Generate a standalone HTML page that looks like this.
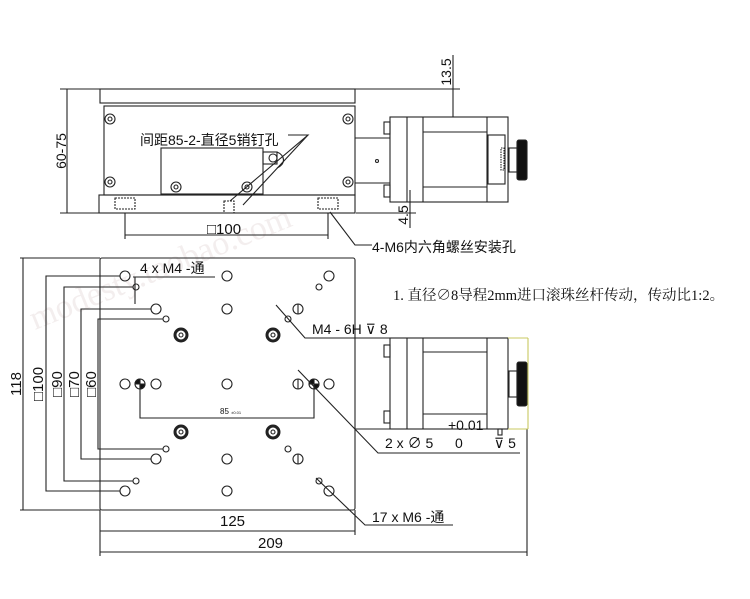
<!DOCTYPE html>
<html><head><meta charset="utf-8"><style>
html,body{margin:0;padding:0;background:#fff;width:750px;height:599px;overflow:hidden}
svg{display:block}
text{font-family:"Liberation Sans","Noto Sans CJK SC",sans-serif;fill:#111}
</style></head><body>
<svg width="750" height="599" viewBox="0 0 750 599" xmlns="http://www.w3.org/2000/svg">
<text transform="translate(35,330) rotate(-22)" font-size="34" style="fill:#f3eeee;font-family:'Liberation Serif',serif">modesty.taobao.com</text>
<g fill="none" stroke="#222" stroke-width="1.1">
<!-- TOP VIEW -->
<rect x="100" y="89" width="255" height="14"/>
<rect x="104" y="106" width="251" height="89"/>
<rect x="99" y="195" width="256" height="18"/>
<rect x="161" y="148" width="102" height="46"/>
<rect x="263" y="152" width="14" height="12"/>
<path d="M277 152 A12 9 0 0 1 277 168"/>
<circle cx="273" cy="158" r="4"/>
<g>
<circle cx="110" cy="119" r="5"/><circle cx="110" cy="119" r="2"/>
<circle cx="348" cy="119" r="5"/><circle cx="348" cy="119" r="2"/>
<circle cx="110" cy="182" r="5"/><circle cx="110" cy="182" r="2"/>
<circle cx="348" cy="182" r="5"/><circle cx="348" cy="182" r="2"/>
<circle cx="176" cy="187" r="5"/><circle cx="176" cy="187" r="2"/>
<circle cx="247" cy="187" r="5"/><circle cx="247" cy="187" r="2"/>
</g>
<rect x="115" y="198" width="20" height="11" stroke-dasharray="2 1"/>
<rect x="318" y="198" width="20" height="11" stroke-dasharray="2 1"/>
<rect x="224" y="201" width="10" height="12" stroke-dasharray="2 1"/>
<!-- motor top -->
<line x1="355" y1="138" x2="390" y2="138"/><line x1="355" y1="183" x2="390" y2="183"/>
<circle cx="377" cy="161" r="1.5"/>
<rect x="384" y="122" width="6" height="12"/><rect x="384" y="185" width="6" height="12"/>
<rect x="390" y="117" width="118" height="85"/>
<line x1="407" y1="117" x2="407" y2="202"/><line x1="423" y1="117" x2="423" y2="202"/><line x1="487" y1="117" x2="487" y2="202"/>
<line x1="423" y1="132" x2="487" y2="132"/><line x1="423" y1="187" x2="487" y2="187"/>
<rect x="488" y="135" width="17" height="49"/>
<rect x="501" y="148" width="3" height="22" stroke-dasharray="1.5 1"/>
<rect x="509" y="148" width="8" height="24"/>
<rect x="517" y="140" width="10" height="40" fill="#111" rx="2"/>
<!-- dims top -->
<line x1="60" y1="89" x2="100" y2="89"/><line x1="60" y1="213" x2="99" y2="213"/>
<line x1="67" y1="89" x2="67" y2="213"/>
<line x1="355" y1="89" x2="460" y2="89"/><line x1="453" y1="55" x2="453" y2="117"/>
<line x1="356" y1="213" x2="416" y2="213"/><line x1="410" y1="190" x2="410" y2="228"/>
<line x1="125" y1="213" x2="125" y2="239"/><line x1="328" y1="213" x2="328" y2="239"/>
<line x1="125" y1="235" x2="328" y2="235"/>
<!-- leaders top -->
<polyline points="288,135 308,135 230,201"/><line x1="308" y1="135" x2="243" y2="205"/>
<polyline points="330,212 355,245 372,245"/>
<!-- BOTTOM VIEW -->
<rect x="100" y="258" width="255" height="252" rx="2"/>
<g>
<circle cx="125" cy="276" r="5"/><circle cx="227" cy="276" r="5"/><circle cx="329" cy="276" r="5"/>
<circle cx="156" cy="309" r="5"/><circle cx="227" cy="309" r="5"/><circle cx="298" cy="309" r="5"/>
<circle cx="125" cy="384" r="5"/><circle cx="156" cy="384" r="5"/><circle cx="227" cy="384" r="5"/><circle cx="298" cy="384" r="5"/><circle cx="329" cy="384" r="5"/>
<circle cx="156" cy="459" r="5"/><circle cx="227" cy="459" r="5"/><circle cx="298" cy="459" r="5"/>
<circle cx="125" cy="491" r="5"/><circle cx="227" cy="491" r="5"/><circle cx="329" cy="491" r="5"/>
<line x1="298" y1="304" x2="298" y2="314"/><line x1="298" y1="379" x2="298" y2="389"/><line x1="298" y1="454" x2="298" y2="464"/>
<circle cx="136" cy="287" r="3"/><circle cx="166" cy="319" r="3"/><circle cx="166" cy="449" r="3"/><circle cx="136" cy="481" r="3"/>
<circle cx="319" cy="287" r="3"/><circle cx="288" cy="319" r="3"/><circle cx="288" cy="449" r="3"/><circle cx="319" cy="481" r="3"/>
</g>
<g stroke-width="3"><circle cx="181" cy="335" r="6"/><circle cx="273" cy="335" r="6"/><circle cx="181" cy="432" r="6"/><circle cx="273" cy="432" r="6"/></g>
<g><circle cx="181" cy="335" r="2"/><circle cx="273" cy="335" r="2"/><circle cx="181" cy="432" r="2"/><circle cx="273" cy="432" r="2"/></g>
<circle cx="140" cy="384" r="5"/><path d="M140 384 L140 379 A5 5 0 0 0 135 384 Z M140 384 L140 389 A5 5 0 0 0 145 384Z" fill="#111"/>
<circle cx="314" cy="384" r="5"/><path d="M314 384 L314 379 A5 5 0 0 0 309 384 Z M314 384 L314 389 A5 5 0 0 0 319 384Z" fill="#111"/>
<!-- left dims -->
<line x1="20" y1="258" x2="100" y2="258"/><line x1="20" y1="510" x2="100" y2="510"/><line x1="23" y1="258" x2="23" y2="510"/>
<polyline points="120,276 46,276 46,491 120,491"/>
<polyline points="133,287 64,287 64,481 133,481"/>
<polyline points="151,309 81,309 81,459 151,459"/>
<polyline points="163,319 98,319 98,449 163,449"/>
<!-- 85 -->
<polyline points="140,384 140,418 314,418 314,384"/>
<!-- bottom dims -->
<line x1="100" y1="510" x2="100" y2="556"/><line x1="355" y1="510" x2="355" y2="535"/>
<line x1="100" y1="531" x2="355" y2="531"/><line x1="100" y1="552" x2="527" y2="552"/>
<line x1="527" y1="429" x2="527" y2="556"/>
<!-- motor bottom -->
<rect x="384" y="345" width="6" height="12"/><rect x="384" y="411" width="6" height="12"/>
<rect x="390" y="338" width="118" height="91"/>
<line x1="407" y1="338" x2="407" y2="429"/><line x1="423" y1="338" x2="423" y2="429"/><line x1="487" y1="338" x2="487" y2="429"/>
<line x1="423" y1="352" x2="487" y2="352"/><line x1="423" y1="414" x2="487" y2="414"/>
<line x1="355" y1="338" x2="390" y2="338"/><line x1="355" y1="429" x2="390" y2="429"/>
<rect x="509" y="371" width="8" height="26"/>
<rect x="517" y="362" width="10" height="44" fill="#111" rx="2"/>
<line x1="528" y1="338" x2="528" y2="429" stroke="#c8c860"/>
<line x1="508" y1="338" x2="528" y2="338" stroke="#c8c860"/><line x1="508" y1="429" x2="528" y2="429" stroke="#c8c860"/>
<rect x="498" y="429" width="4" height="6"/>
<!-- leaders bottom -->
<polyline points="133,277 215,277"/><line x1="135" y1="277" x2="135" y2="304"/>
<polyline points="276,305 305,338 398,338"/>
<polyline points="298,370 378,453 520,453"/>
<polyline points="316,478 365,525 453,525"/>
</g>
<!-- text -->
<text x="140" y="145" font-size="14">间距85-2-直径5销钉孔</text>
<text transform="translate(66,151) rotate(-90)" font-size="14" text-anchor="middle">60-75</text>
<text transform="translate(451,72) rotate(-90)" font-size="14" text-anchor="middle">13.5</text>
<text transform="translate(408,215) rotate(-90)" font-size="14" text-anchor="middle">4.5</text>
<text x="207" y="234" font-size="15">□100</text>
<text x="372" y="252" font-size="14">4-M6内六角螺丝安装孔</text>
<text x="393" y="300" font-size="14.5" style="font-family:'Liberation Serif','Noto Serif CJK SC',serif">1. 直径∅8导程2mm进口滚珠丝杆传动，传动比1:2。</text>
<text x="140" y="273" font-size="14">4 x  M4 -通</text>
<text x="312" y="334" font-size="14">M4 - 6H ⊽ 8</text>
<text x="385" y="448" font-size="14">2 x ∅ 5</text>
<text x="455" y="448" font-size="14">0</text>
<text x="494" y="448" font-size="14">⊽ 5</text>
<text x="448" y="430" font-size="14">+0.01</text>
<text x="372" y="522" font-size="14">17 x  M6 -通</text>
<text x="220" y="414" font-size="8">85 <tspan font-size="4">±0.01</tspan></text>
<text x="220" y="526" font-size="15">125</text>
<text x="258" y="548" font-size="15">209</text>
<text transform="translate(21,384) rotate(-90)" font-size="15" text-anchor="middle">118</text>
<text transform="translate(43,384) rotate(-90)" font-size="15" text-anchor="middle">□100</text>
<text transform="translate(62,384) rotate(-90)" font-size="15" text-anchor="middle">□90</text>
<text transform="translate(79,384) rotate(-90)" font-size="15" text-anchor="middle">□70</text>
<text transform="translate(96,384) rotate(-90)" font-size="15" text-anchor="middle">□60</text>
</svg>
</body></html>
